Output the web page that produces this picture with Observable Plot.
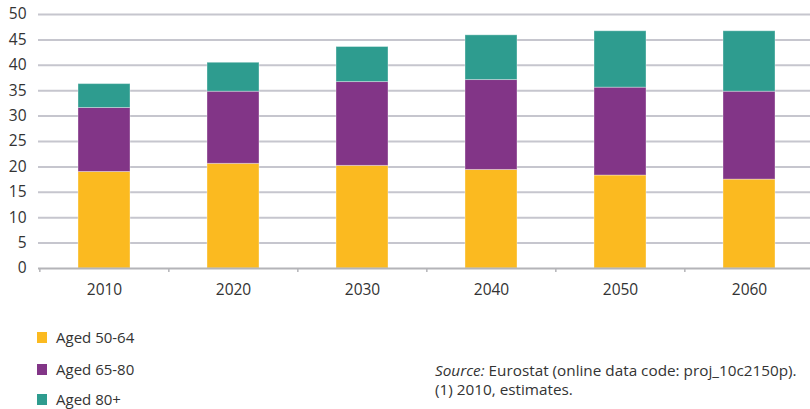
<!DOCTYPE html>
<html>
<head>
<meta charset="utf-8">
<script src="https://cdn.jsdelivr.net/npm/d3@7"></script>
<script src="https://cdn.jsdelivr.net/npm/@observablehq/plot@0.6"></script>
<style>
  html, body { margin: 0; padding: 0; background: #fff; }
  #wrap { position: relative; width: 810px; height: 409px; font-family: "Open Sans", sans-serif; color: #333; }
  #chart { position: absolute; left: 0; top: 0; }
  .leg { position: absolute; left: 37px; font-size: 15px; display: flex; align-items: center; }
  .sw { width: 10px; height: 11px; margin-right: 9px; }
  #src { position: absolute; left: 435px; top: 361px; font-size: 15.3px; line-height: 19px; color: #333; white-space: nowrap; }
</style>
</head>
<body>
<div id="wrap">
  <div id="chart"></div>
  <div id="legend"></div>
  <div id="src"><i>Source:</i> Eurostat (online data code: proj_10c2150p).<br>(1) 2010, estimates.</div>
</div>
<script>
const years = ["2010", "2020", "2030", "2040", "2050", "2060"];
const groups = ["Aged 50-64", "Aged 65-80", "Aged 80+"];
const colors = ["#FBBA20", "#823587", "#2E9C8F"];
const aged5064 = [19.0, 20.6, 20.2, 19.4, 18.3, 17.5];
const aged6580 = [12.6, 14.2, 16.5, 17.7, 17.3, 17.3];
const aged80 = [4.7, 5.7, 6.9, 8.8, 11.1, 11.9];
const yTicks = [0, 5, 10, 15, 20, 25, 30, 35, 40, 45, 50];

const series = [aged5064, aged6580, aged80];
const data = [];
groups.forEach((g, gi) => years.forEach((y, yi) => data.push({year: y, group: g, value: series[gi][yi]})));

const step = (814 - 38) / years.length;

const chart = Plot.plot({
  width: 810,
  height: 305,
  marginTop: 14,
  marginBottom: 37,
  marginLeft: 38,
  marginRight: 0,
  style: {fontFamily: "'Open Sans', sans-serif", fontSize: "15px", color: "#333", background: "transparent"},
  x: {domain: years, range: [38, 814], paddingInner: 0.6, paddingOuter: 0.3, align: 0.5, label: null},
  y: {domain: [0, 50], label: null},
  color: {domain: groups, range: colors},
  marks: [
    Plot.ruleY(yTicks.filter(d => d > 0), {stroke: "#c6c6ce", strokeWidth: 2}),
    Plot.barY(data, {x: "year", y: "value", fill: "group", stroke: "#ffffff", strokeOpacity: 0.35, strokeWidth: 1, order: groups}),
    Plot.ruleY([0], {stroke: "#b4b4b8", strokeWidth: 2}),
    Plot.ruleX(years, {x: d => d, dx: -step / 2, y1: 0, y2: -0.8, stroke: "#b4b4b8", strokeWidth: 1.5}),
    Plot.axisY({ticks: yTicks, tickSize: 0, tickPadding: 12, fill: "#333", fontSize: 15.5, label: null}),
    Plot.axisX({tickSize: 0, tickPadding: 15, fill: "#333", fontSize: 15.5, label: null})
  ]
});
document.getElementById("chart").appendChild(chart);

const legend = document.getElementById("legend");
const legTops = [327, 359, 389];
groups.forEach((g, i) => {
  const row = document.createElement("div");
  row.className = "leg";
  row.style.top = legTops[i] + "px";
  row.innerHTML = `<span class="sw" style="background:${colors[i]}"></span><span>${g}</span>`;
  legend.appendChild(row);
});
</script>
</body>
</html>
